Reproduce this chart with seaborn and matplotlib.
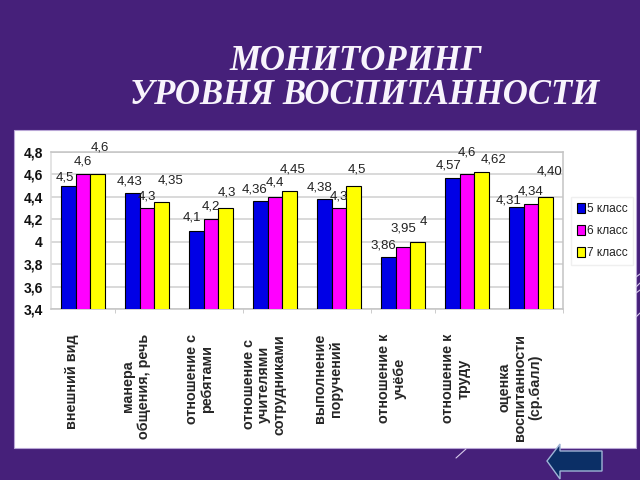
import matplotlib
matplotlib.use('Agg')
import matplotlib.pyplot as plt
from matplotlib.patches import Rectangle, Polygon
from matplotlib.lines import Line2D
from matplotlib.transforms import ScaledTranslation
import pandas as pd
import seaborn as sns

# Data
categories = ['внешний вид', 'манера\nобщения, речь', 'отношение с\nребятами',
              'отношение с\nучителями\nсотрудниками', 'выполнение\nпоручений',
              'отношение к\nучёбе', 'отношение к\nтруду',
              'оценка\nвоспитанности\n(ср.балл)']
class_5 = [4.5, 4.43, 4.1, 4.36, 4.38, 3.86, 4.57, 4.31]
class_6 = [4.6, 4.3, 4.2, 4.4, 4.3, 3.95, 4.6, 4.34]
class_7 = [4.6, 4.35, 4.3, 4.45, 4.5, 4.0, 4.62, 4.40]
labels_5 = ['4,5', '4,43', '4,1', '4,36', '4,38', '3,86', '4,57', '4,31']
labels_6 = ['4,6', '4,3', '4,2', '4,4', '4,3', '3,95', '4,6', '4,34']
labels_7 = ['4,6', '4,35', '4,3', '4,45', '4,5', '4', '4,62', '4,40']
y_ticks = [3.4, 3.6, 3.8, 4.0, 4.2, 4.4, 4.6, 4.8]
y_labels = ['3,4', '3,6', '3,8', '4', '4,2', '4,4', '4,6', '4,8']

# Where each value label sits relative to its bar top (pixels)
offsets_5 = [(-4, 8), (-3, 12), (-5, 13), (-6, 12), (-5, 12), (-5, 12), (-4, 12), (-8, 6)]
offsets_6 = [(0, 13), (0, 12), (0, 13), (0, 14), (0, 12), (0, 19), (0, 22), (0, 12)]
offsets_7 = [(2, 27), (9, 22), (1, 16), (3, 22), (3, 16), (6, 20), (12, 13), (4, 25)]

PURPLE = '#46207A'
colors = ['#0000E6', '#FF00FF', '#FFFF00']
series = ['5 класс', '6 класс', '7 класс']

df = pd.DataFrame({'category': categories * 3,
                   'value': class_5 + class_6 + class_7,
                   'series': [s for s in series for _ in categories]})

sns.set_style('white')
plt.rcParams['font.family'] = ['Liberation Sans', 'DejaVu Sans']

fig = plt.figure(figsize=(6.4, 4.8), dpi=100, facecolor=PURPLE)

# white slide panel
fig.add_artist(Rectangle((14 / 640, 1 - 448 / 480), 622 / 640, 318 / 480, transform=fig.transFigure,
                         facecolor='white', edgecolor='#B9A6D6', linewidth=0.8, zorder=-1))

fig.text(356 / 640, 1 - 62 / 480, 'МОНИТОРИНГ', color='#F8F4FC', fontsize=25, ha='center', va='center',
         family='Liberation Serif', weight='bold', style='italic')
fig.text(365 / 640, 1 - 96 / 480, 'УРОВНЯ ВОСПИТАННОСТИ', color='#F8F4FC', fontsize=25, ha='center', va='center',
         family='Liberation Serif', weight='bold', style='italic')

ax = fig.add_axes([51 / 640, 1 - 309 / 480, 512 / 640, 157 / 480])
ax.patch.set_alpha(0)
sns.barplot(data=df, x='category', y='value', hue='series', palette=colors, width=0.68, gap=0,
            edgecolor='black', linewidth=0.8, saturation=1, zorder=3, ax=ax)

ax.set_ylim(3.4, 4.8)
ax.set_xlim(-0.5, 7.5)
ax.set_xlabel('')
ax.set_ylabel('')
ax.set_yticks(y_ticks)
ax.set_yticklabels(y_labels, fontsize=10, fontweight='bold', color='#111111')
ax.tick_params(axis='y', length=0, pad=6)
ax.yaxis.grid(True, color='#CFCFCF', linewidth=1.1, zorder=0)
ax.xaxis.grid(False)
for side in ax.spines:
    ax.spines[side].set_visible(True)
    ax.spines[side].set_color('#C4C4C4')
    ax.spines[side].set_linewidth(1.1)
ax.spines['left'].set_color('#DDDDDD')

# category names are rotated and sit a bit left of their group
ax.set_xticks(range(len(categories)))
ax.set_xticklabels(categories, rotation=90, fontsize=10.4, fontweight='bold', ha='center', va='top',
                   rotation_mode='default', linespacing=1.1)
ax.tick_params(axis='x', which='major', length=0, pad=18)
shift = ScaledTranslation(-11 / 100, 0, fig.dpi_scale_trans)
for lab in ax.get_xticklabels():
    lab.set_transform(lab.get_transform() + shift)
# only some group boundaries show a tick in the original
ax.set_xticks([0.5, 2.5, 4.5, 5.5, 7.5], minor=True)
ax.tick_params(axis='x', which='minor', length=3, color='#C4C4C4', bottom=True)

# value labels
for container, vals, labs, offs in zip(ax.containers, [class_5, class_6, class_7],
                                       [labels_5, labels_6, labels_7],
                                       [offsets_5, offsets_6, offsets_7]):
    for bar, val, lab, off in zip(container, vals, labs, offs):
        ax.annotate(lab, (bar.get_x() + bar.get_width() / 2, val), xytext=off, textcoords='offset pixels',
                    ha='center', va='center', fontsize=9.5, color='#222222', annotation_clip=False, zorder=5)

handles, names = ax.get_legend_handles_labels()
leg = ax.legend(handles, names, loc='center left', bbox_to_anchor=(571 / 640, 1 - 231 / 480),
                bbox_transform=fig.transFigure, frameon=True, fontsize=8.6, handlelength=0.7,
                handleheight=0.9, handletextpad=0.1, labelspacing=0.85, borderpad=0.5, borderaxespad=0,
                fancybox=False, edgecolor='#EFEFEF', facecolor='white', framealpha=1, labelcolor='#222222')

# back arrow button
fig.add_artist(Polygon([(547 / 640, 1 - 461 / 480), (560 / 640, 1 - 444 / 480), (560 / 640, 1 - 451 / 480),
                        (602 / 640, 1 - 451 / 480), (602 / 640, 1 - 471 / 480), (560 / 640, 1 - 471 / 480),
                        (560 / 640, 1 - 479 / 480)], closed=True, transform=fig.transFigure,
                       facecolor='#0B2F66', edgecolor='#9FB4D6', linewidth=1))

# thin decorative strokes on the slide background
for x0, y0, x1, y1 in [(636, 277, 640, 274), (636, 287, 640, 283), (636, 293, 640, 290),
                       (636, 317, 640, 313), (466, 449, 456, 458)]:
    fig.add_artist(Line2D([x0 / 640, x1 / 640], [1 - y0 / 480, 1 - y1 / 480], transform=fig.transFigure,
                          color='#D8CCEC', linewidth=0.8))

fig.savefig('out.png', dpi=100, facecolor=fig.get_facecolor())
